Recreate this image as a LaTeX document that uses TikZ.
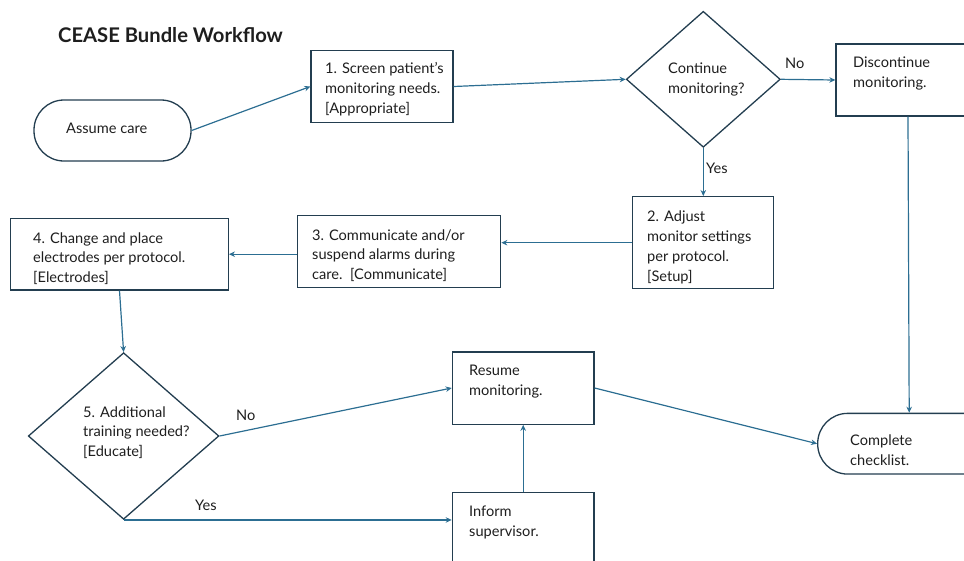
\documentclass[tikz,border=0pt]{standalone}
\usepackage{fontspec}
\setmainfont{Lato}
\newfontfamily\titlefont{Lato}
\usetikzlibrary{arrows.meta,shapes.geometric}
\definecolor{boxline}{RGB}{35,62,80}
\definecolor{conn}{RGB}{44,110,146}
\definecolor{txt}{RGB}{30,30,30}
\begin{document}
\begin{tikzpicture}[x=1pt,y=-1pt,
  shp/.style={draw=boxline, line width=1.3pt, inner sep=0pt},
  term/.style={shp, rectangle, rounded corners=30pt},
  dia/.style={shp, diamond},
  txtn/.style={anchor=west, align=left, inner sep=0pt, text=txt, font=\fontsize{14.6}{19.8}\selectfont},
  lbl/.style={anchor=west, inner sep=0pt, text=txt, font=\fontsize{14.6}{19.8}\selectfont},
  conn/.style={draw=conn, line width=1.2pt, -{Stealth[length=6pt,width=5.5pt]}}
]
\useasboundingbox (0,0) rectangle (964,560);
\clip (0,0) rectangle (964,560);

% title
\node[anchor=west, inner sep=0pt, text=txt, font=\titlefont\bfseries\fontsize{20.2}{24}\selectfont] (title) at (58,35) {CEASE Bundle Workflow};

% shapes
\node[term, minimum width=157pt, minimum height=61pt] (assume) at (112.5,130.5) {};
\node[shp, rectangle, minimum width=142pt, minimum height=72pt] (b1) at (382,86.5) {};
\node[dia, minimum width=154pt, minimum height=136pt] (dC) at (703.3,79.3) {};
\node[shp, rectangle, minimum width=144pt, minimum height=72pt] (bD) at (908,80) {};
\node[shp, rectangle, minimum width=141pt, minimum height=92pt] (b2) at (702.8,242.7) {};
\node[shp, rectangle, minimum width=203pt, minimum height=72pt] (b3) at (399.2,251.2) {};
\node[shp, rectangle, minimum width=217.6pt, minimum height=71.7pt] (b4) at (119.5,254.2) {};
\node[dia, minimum width=190.7pt, minimum height=166.6pt] (d5) at (123.6,436) {};
\node[shp, rectangle, minimum width=141.7pt, minimum height=72.3pt] (bR) at (523.2,388) {};
\node[shp, rectangle, minimum width=141.7pt, minimum height=72pt] (bI) at (523.2,528.3) {};
\node[term, minimum width=183pt, minimum height=60.7pt] (ck) at (909.2,443.7) {};

% texts
\node[lbl] (tA) at (66,128) {Assume care};
\node[txtn] (t1) at (325,89) {1. Screen patient’s\\monitoring needs.\\{[Appropriate]}};
\node[txtn] (tC) at (668,79.5) {Continue\\monitoring?};
\node[lbl] (no1) at (785,63.5) {No};
\node[txtn] (tD) at (853,73.5) {Discontinue\\monitoring.};
\node[lbl] (yes1) at (706,168.5) {Yes};
\node[txtn] (t2) at (647,247.5) {2. Adjust\\monitor settings\\per protocol.\\{[Setup]}};
\node[txtn] (t3) at (312,255.5) {3. Communicate and/or\\suspend alarms during\\care.\ \ [Communicate]};
\node[txtn] (t4) at (33,258.5) {4. Change and place\\electrodes per protocol.\\{[Electrodes]}};
\node[txtn] (t5) at (83,432.5) {5. Additional\\training needed?\\{[Educate]}};
\node[lbl] (no2) at (236,415.5) {No};
\node[lbl] (yes2) at (195,505.5) {Yes};
\node[txtn] (tR) at (469,381.5) {Resume\\monitoring.};
\node[txtn] (tI) at (469,522.5) {Inform\\supervisor.};
\node[txtn] (tK) at (850,450.5) {Complete\\checklist.};

% connectors
\draw[conn] (assume.east) -- (b1.west);
\draw[conn] (b1.east) -- (dC.west);
\draw[conn] (dC.east) -- (bD.west);
\draw[conn] (dC.south) -- (b2.north -| dC.south);
\draw[conn] (b2.west) -- (b3.east |- b2.west);
\draw[conn] (b4.east -| b3.west) -- (b4.east);
\draw[conn] (b4.south) -- (d5.north);
\draw[conn] (d5.east) -- (bR.west);
\draw[conn] (d5.south) -- (bI.west |- d5.south);
\draw[conn] (bI.north) -- (bR.south);
\draw[conn] (bR.east) -- (ck.west);
\draw[conn] (bD.south) -- (ck.north);
\end{tikzpicture}
\end{document}
